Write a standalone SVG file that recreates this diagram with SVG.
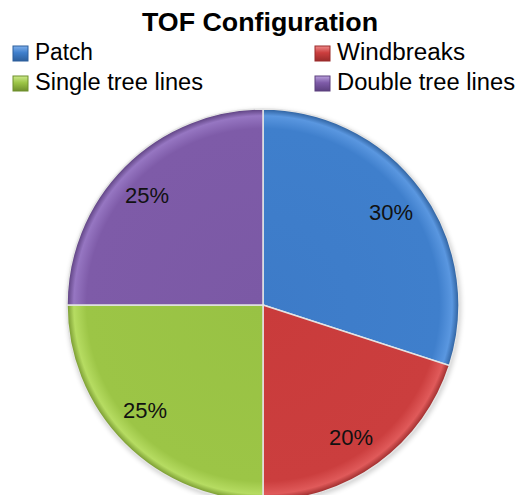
<svg xmlns="http://www.w3.org/2000/svg" width="521" height="495" viewBox="0 0 521 495">
  <style>
    .title { font-family: "Liberation Sans", Arial, sans-serif; font-weight: bold; font-size: 26px; fill: #000; }
    .legend { font-family: "Liberation Sans", Arial, sans-serif; font-size: 23px; fill: #000; }
    .pct { font-family: "Liberation Sans", Arial, sans-serif; font-size: 22px; fill: #111; text-anchor: middle; }
    .slice { stroke: #e4e4e4; stroke-width: 1.5; }
    .key { stroke-width: 1; }
  </style>
  <defs>
    <!-- rounded-bevel look: flat body, bright band near the rim, dark outer edge -->
    <radialGradient id="gBlue" gradientUnits="userSpaceOnUse" cx="263" cy="305" r="196">
      <stop offset="0" stop-color="#3d7bc8"/>
      <stop offset="0.9" stop-color="#3f7fcc"/>
      <stop offset="0.965" stop-color="#5a97e0"/>
      <stop offset="1" stop-color="#2d5f9c"/>
    </radialGradient>
    <radialGradient id="gRed" gradientUnits="userSpaceOnUse" cx="263" cy="305" r="196">
      <stop offset="0" stop-color="#c93b3b"/>
      <stop offset="0.9" stop-color="#cb3e3e"/>
      <stop offset="0.965" stop-color="#e05a5a"/>
      <stop offset="1" stop-color="#9a2b2b"/>
    </radialGradient>
    <radialGradient id="gGreen" gradientUnits="userSpaceOnUse" cx="263" cy="305" r="196">
      <stop offset="0" stop-color="#98c244"/>
      <stop offset="0.9" stop-color="#9cc546"/>
      <stop offset="0.965" stop-color="#b6dc62"/>
      <stop offset="1" stop-color="#76972f"/>
    </radialGradient>
    <radialGradient id="gPurple" gradientUnits="userSpaceOnUse" cx="263" cy="305" r="196">
      <stop offset="0" stop-color="#7b59a5"/>
      <stop offset="0.9" stop-color="#7e5ba8"/>
      <stop offset="0.965" stop-color="#9676c2"/>
      <stop offset="1" stop-color="#5c407f"/>
    </radialGradient>
    <linearGradient id="kBlue" x1="0" y1="0" x2="0" y2="1">
      <stop offset="0" stop-color="#7fb0ec"/>
      <stop offset="0.45" stop-color="#3f7fcc"/>
      <stop offset="1" stop-color="#2d5f9c"/>
    </linearGradient>
    <linearGradient id="kRed" x1="0" y1="0" x2="0" y2="1">
      <stop offset="0" stop-color="#ee8a8a"/>
      <stop offset="0.45" stop-color="#cb3e3e"/>
      <stop offset="1" stop-color="#9a2b2b"/>
    </linearGradient>
    <linearGradient id="kGreen" x1="0" y1="0" x2="0" y2="1">
      <stop offset="0" stop-color="#cde98c"/>
      <stop offset="0.45" stop-color="#9cc546"/>
      <stop offset="1" stop-color="#6f8f2c"/>
    </linearGradient>
    <linearGradient id="kPurple" x1="0" y1="0" x2="0" y2="1">
      <stop offset="0" stop-color="#b9a0dc"/>
      <stop offset="0.45" stop-color="#7e5ba8"/>
      <stop offset="1" stop-color="#5c407f"/>
    </linearGradient>
    <filter id="soft" x="-10%" y="-10%" width="120%" height="120%">
      <feGaussianBlur stdDeviation="2.5"/>
    </filter>
  </defs>

  <rect width="521" height="495" fill="#ffffff"/>

  <text class="title" x="260" y="31" text-anchor="middle" textLength="236" lengthAdjust="spacingAndGlyphs">TOF Configuration</text>

  <!-- legend -->
  <g id="legend">
    <g id="legend-patch">
      <rect class="key" x="13" y="46" width="15" height="15" fill="url(#kBlue)" stroke="#2d5f9c"/>
      <text class="legend" x="35" y="60" textLength="58" lengthAdjust="spacingAndGlyphs">Patch</text>
    </g>
    <g id="legend-windbreaks">
      <rect class="key" x="315" y="46" width="15" height="15" fill="url(#kRed)" stroke="#9a2b2b"/>
      <text class="legend" x="337" y="60" textLength="128" lengthAdjust="spacingAndGlyphs">Windbreaks</text>
    </g>
    <g id="legend-single">
      <rect class="key" x="13" y="76" width="15" height="15" fill="url(#kGreen)" stroke="#6f8f2c"/>
      <text class="legend" x="35" y="90" textLength="168" lengthAdjust="spacingAndGlyphs">Single tree lines</text>
    </g>
    <g id="legend-double">
      <rect class="key" x="315" y="76" width="15" height="15" fill="url(#kPurple)" stroke="#5c407f"/>
      <text class="legend" x="337" y="90" textLength="178" lengthAdjust="spacingAndGlyphs">Double tree lines</text>
    </g>
  </g>

  <!-- faint shadow under the pie -->
  <circle cx="264" cy="307" r="197" fill="#000" opacity="0.18" filter="url(#soft)"/>

  <!-- pie slices, clockwise from 12 o'clock; centre (263,305), radius 196 -->
  <g id="slice-patch">
    <path class="slice" d="M263,305 L263,109 A196,196 0 0 1 449.4,365.6 Z" fill="url(#gBlue)"/>
    <text class="pct" x="391" y="220">30%</text>
  </g>
  <g id="slice-windbreaks">
    <path class="slice" d="M263,305 L449.4,365.6 A196,196 0 0 1 263,501 Z" fill="url(#gRed)"/>
    <text class="pct" x="351" y="445">20%</text>
  </g>
  <g id="slice-single">
    <path class="slice" d="M263,305 L263,501 A196,196 0 0 1 67,305 Z" fill="url(#gGreen)"/>
    <text class="pct" x="145" y="418">25%</text>
  </g>
  <g id="slice-double">
    <path class="slice" d="M263,305 L67,305 A196,196 0 0 1 263,109 Z" fill="url(#gPurple)"/>
    <text class="pct" x="147" y="203">25%</text>
  </g>
</svg>
